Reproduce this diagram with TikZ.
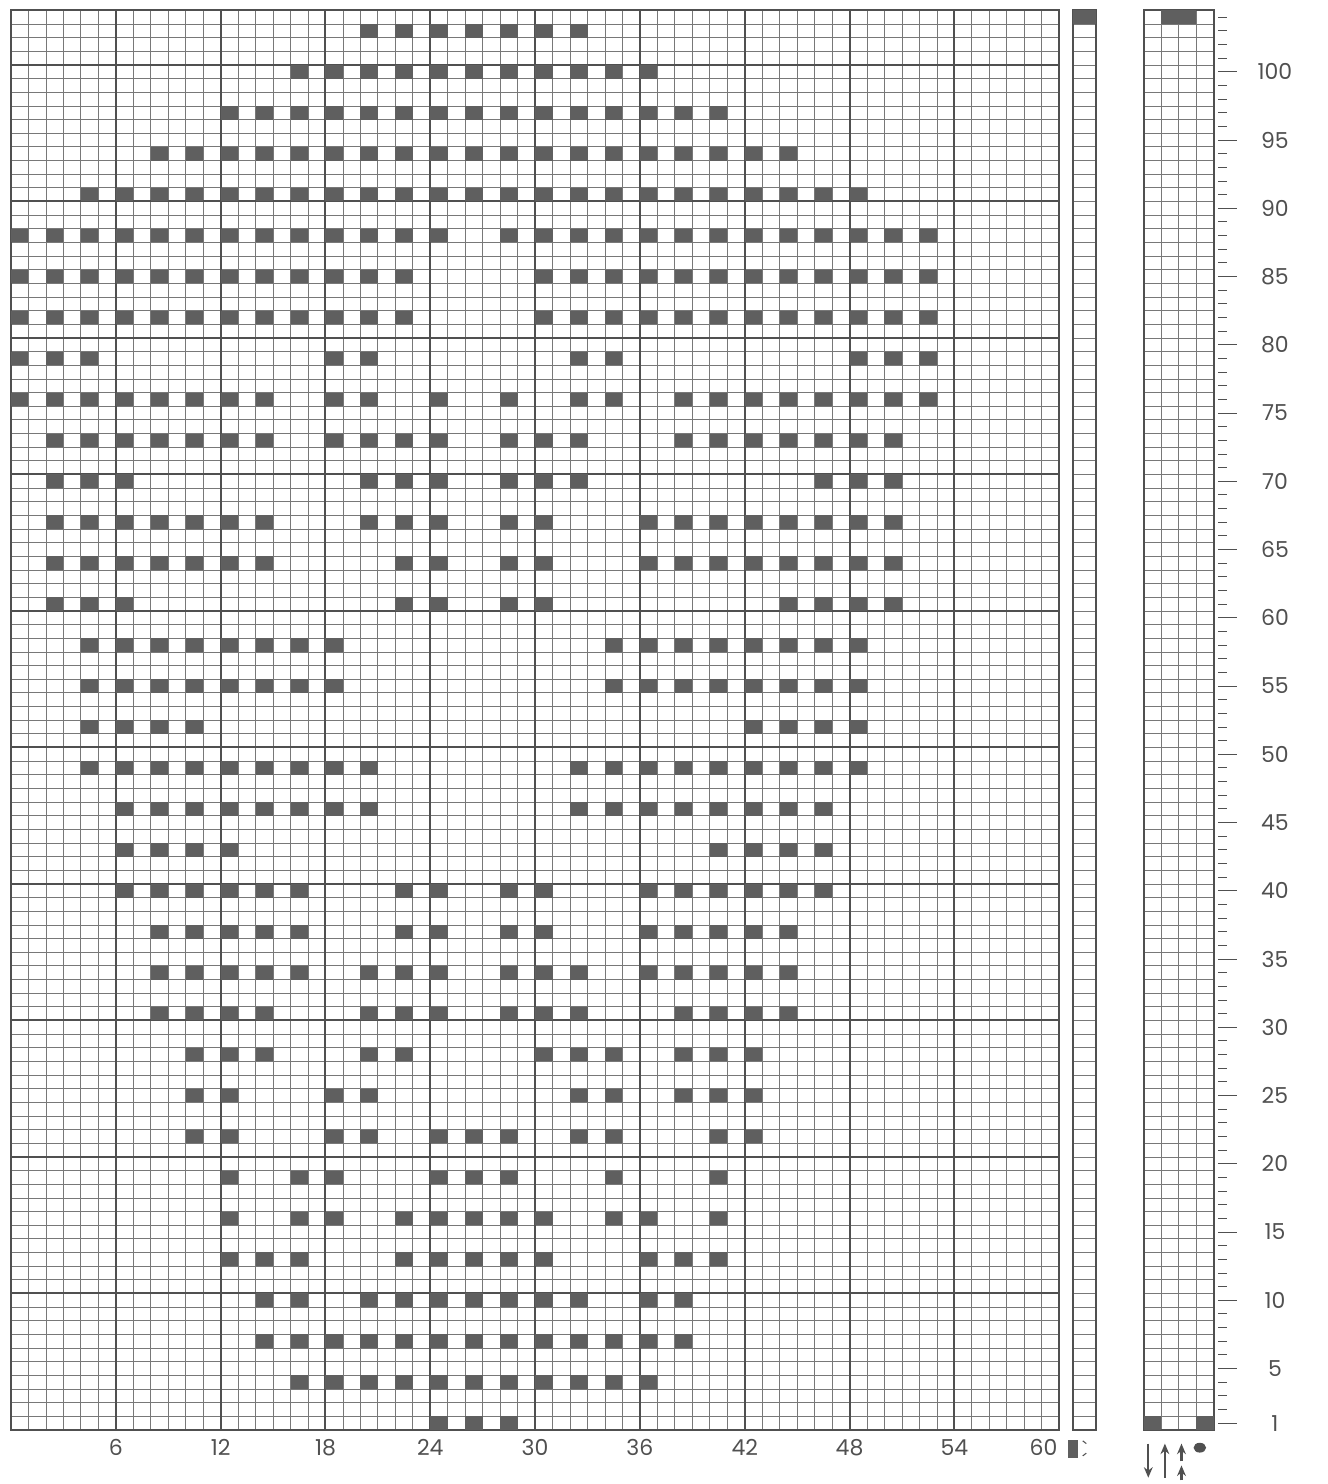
\documentclass[tikz,border=0pt]{standalone}
\usepackage{fontspec}
\setsansfont{Poppins}
\usetikzlibrary{arrows.meta}
\definecolor{cellGray} {RGB}{120,120,120}
\definecolor{rulerGray}{RGB}{ 80, 80, 80}
\definecolor{punchGray}{RGB}{ 95, 95, 95}

\begin{document}
\begin{tikzpicture}[x=3.494mm,y=2.73mm,
          cellline/.style={cellGray,line width=0.45pt},
          majorline/.style={rulerGray,line width=1.1pt},
          punch/.style={fill=punchGray},
          ticks/.style={rulerGray,line width=0.5pt},
          keyarrow/.style={-{Stealth[length=6pt,width=5pt]},rulerGray,
                           line width=1.2pt},
          numlab/.style={font=\sffamily\fontsize{12.5}{14}\selectfont,
                         text=rulerGray,inner sep=1pt},
        ]
        \useasboundingbox (-0.63,-3.96) rectangle (75.34,104.76);

        % MAIN SHEET, 60 x 104
        \draw[cellline] (0,0) grid[step=1] (60,104);
        \foreach \x in {0,6,...,60}
          \draw[majorline] (\x,0) -- (\x,104);
        \foreach \y in {10,20,...,100}
          \draw[majorline] (0,\y) -- (60,\y);
        \draw[majorline] (0,0) rectangle (60,104);

        % PATTERN
        \foreach \r/\cols in {
            103/{21,23,...,33},
            100/{17,19,...,37},
             97/{13,15,...,41},
             94/{9,11,...,45},
             91/{5,7,...,49},
             88/{1,3,...,25,29,31,...,53},
             85/{1,3,...,23,31,33,...,53},
             82/{1,3,...,23,31,33,...,53},
             79/{1,3,5,19,21,33,35,49,51,53},
             76/{1,3,...,15,19,21,25,29,33,35,39,41,...,53},
             73/{3,5,...,15,19,21,23,25,29,31,33,39,41,...,51},
             70/{3,5,7,21,23,25,29,31,33,47,49,51},
             67/{3,5,...,15,21,23,25,29,31,37,39,...,51},
             64/{3,5,...,15,23,25,29,31,37,39,...,51},
             61/{3,5,7,23,25,29,31,45,47,49,51},
             58/{5,7,...,19,35,37,...,49},
             55/{5,7,...,19,35,37,...,49},
             52/{5,7,9,11,43,45,47,49},
             49/{5,7,...,21,33,35,...,49},
             46/{7,9,...,21,33,35,...,47},
             43/{7,9,11,13,41,43,45,47},
             40/{7,9,...,17,23,25,29,31,37,39,...,47},
             37/{9,11,...,17,23,25,29,31,37,39,...,45},
             34/{9,11,...,17,21,23,25,29,31,33,37,39,...,45},
             31/{9,11,13,15,21,23,25,29,31,33,39,41,43,45},
             28/{11,13,15,21,23,31,33,35,39,41,43},
             25/{11,13,19,21,33,35,39,41,43},
             22/{11,13,19,21,25,27,29,33,35,41,43},
             19/{13,17,19,25,27,29,35,41},
             16/{13,17,19,23,25,27,29,31,35,37,41},
             13/{13,15,17,23,25,27,29,31,37,39,41},
             10/{15,17,21,23,25,27,29,31,33,37,39},
              7/{15,17,...,39},
              4/{17,19,...,37},
              1/{25,27,29}}
          \foreach \c in \cols
            \fill[punch] (\c-1,\r-1) rectangle (\c,\r);

        % NARROW STRIP
        \foreach \y in {0,1,...,104}
          \draw[cellline] (60.8,\y) -- (62.1,\y);
        \draw[majorline] (60.8,0) rectangle (62.1,104);
        \fill[punch] (60.8,103) rectangle (62.1,104);

        % CONTROL STRIP, 4 columns
        \foreach \y in {0,1,...,104}
          \draw[cellline] (64.85,\y) -- (68.85,\y);
        \foreach \x in {65.85,66.85,67.85}
          \draw[cellline] (\x,0) -- (\x,104);
        \draw[majorline] (64.85,0) rectangle (68.85,104);
        \fill[punch] (65.85,103) rectangle (67.85,104);
        \fill[punch] (64.85,0) rectangle (65.85,1);
        \fill[punch] (67.85,0) rectangle (68.85,1);

        % ROW SCALE
        \foreach \r in {1,...,104}
          \draw[ticks] (69.1,\r-0.5) -- (69.6,\r-0.5);
        \foreach \n in {1,5,10,...,100}{
          \draw[ticks] (69.1,\n-0.5) -- (70.2,\n-0.5);
          \node[numlab] (rowlab\n) at (72.35,\n-0.5) {\n};
        }

        % COLUMN NUMBERS
        \foreach \k in {6,12,...,54}
          \node[numlab] (collab\k) at (\k,-1.3) {\k};
        \node[numlab] (collab60) at (59.1,-1.3) {60};
        \fill[punchGray] (60.5,-0.75) rectangle (61.05,-2.05);
        \draw[rulerGray,line width=0.6pt] (61.35,-0.8) -- (61.55,-1.0)
          (61.35,-1.9) -- (61.55,-1.7);

        % STRIP KEYS
        \coordinate (kaTop) at (65.1,-1.0);
        \coordinate (kaBot) at (65.1,-3.5);
        \coordinate (kbTop) at (66.05,-1.0);
        \coordinate (kbBot) at (66.05,-3.5);
        \coordinate (kcTop) at (67.0,-1.0);
        \coordinate (kcMid) at (67.0,-2.3);
        \coordinate (kdTop) at (67.0,-2.6);
        \coordinate (kdBot) at (67.0,-3.7);
        \draw[keyarrow] (kaTop) -- (kaBot);
        \draw[keyarrow] (kbBot) -- (kbTop);
        \draw[keyarrow] (kcMid) -- (kcTop);
        \draw[keyarrow] (kdBot) -- (kdTop);
        \fill[rulerGray] (68.05,-1.3) circle (0.36);
      \end{tikzpicture}
\end{document}
